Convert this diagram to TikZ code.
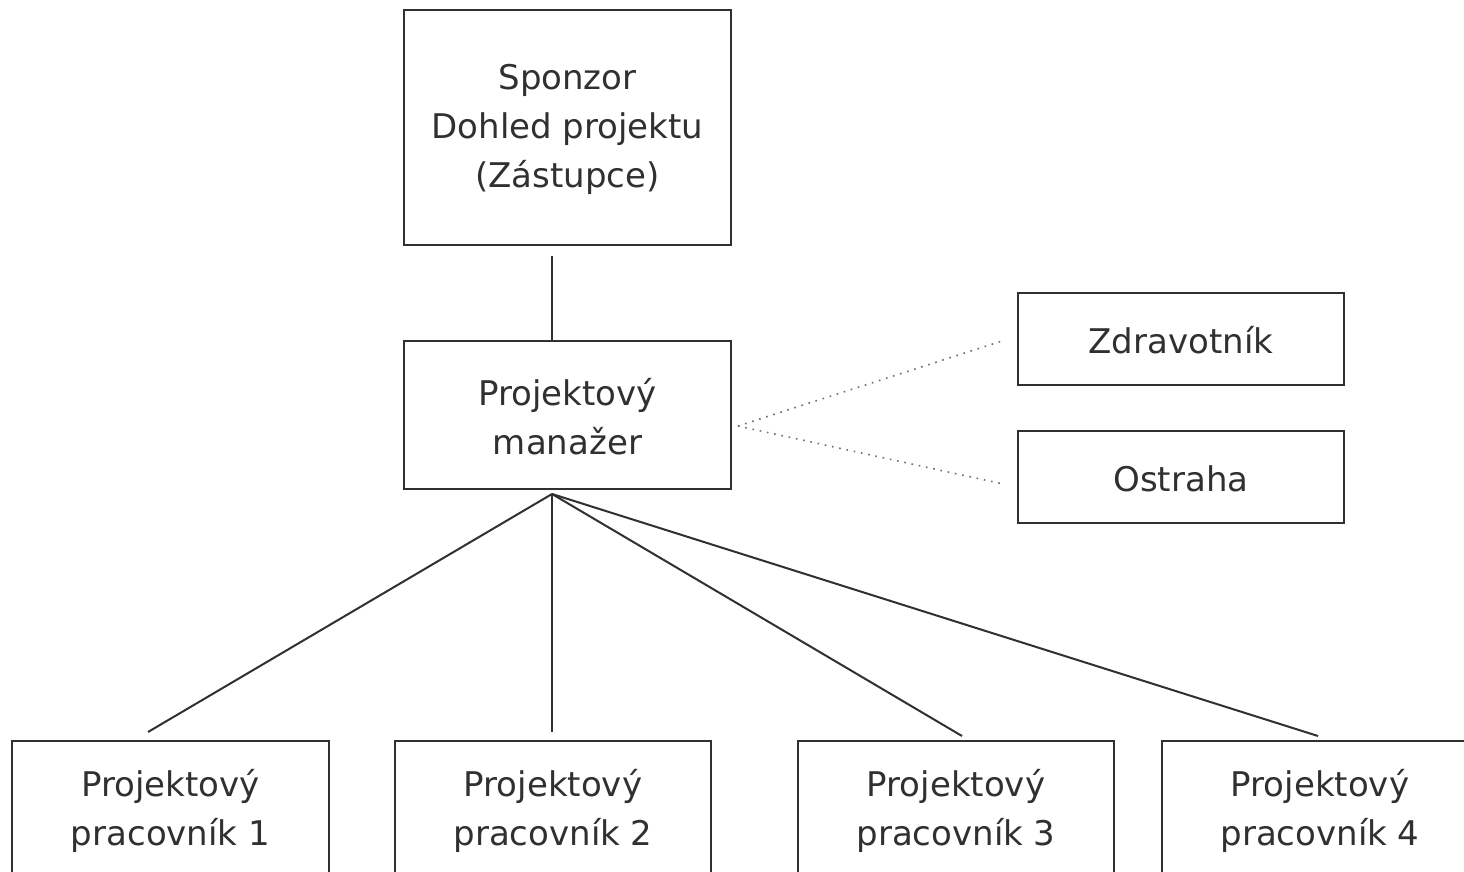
\documentclass[tikz,border=0pt]{standalone}
\usepackage{fontspec}
\setmainfont{DejaVu Sans}
\usetikzlibrary{calc}
\definecolor{ink}{HTML}{303030}
\tikzset{
  box/.style={draw=ink, line width=2pt, rectangle, inner sep=0pt},
  txt/.style={text=ink, align=center, font=\fontsize{34}{49}\selectfont},
  link/.style={draw=ink, line width=2pt},
  dotlink/.style={draw=ink!70, line width=1.6pt, dash pattern=on 1.6pt off 5.8pt}
}
\begin{document}
\begin{tikzpicture}[x=1pt,y=-1pt]
\useasboundingbox (0,0) rectangle (1464,872);
\clip (0,0) rectangle (1464,872);
% top boxes
\node[box, minimum width=327pt, minimum height=235pt] (sp) at (567.5,127.5) {};
\node[txt] (sptxt) at (567.5,129) {Sponzor\\Dohled projektu\\(Zástupce)};
\node[box, minimum width=327pt, minimum height=148pt] (pm) at (567.5,415) {};
\node[txt] (pmtxt) at (567.5,417) {Projektový\\manažer};
\node[box, minimum width=326pt, minimum height=92pt] (zd) at (1181,339) {};
\node[txt] (zdtxt) at (1181,340) {Zdravotník};
\node[box, minimum width=326pt, minimum height=92pt] (os) at (1181,477) {};
\node[txt] (ostxt) at (1181,479) {Ostraha};
% bottom boxes (cut off by the frame)
\node[box, minimum width=317pt, minimum height=200pt] (w1) at (170.5,841) {};
\node[txt] (w1txt) at (170.5,811) {Projektový\\pracovník 1};
\node[box, minimum width=316pt, minimum height=200pt] (w2) at (553,841) {};
\node[txt] (w2txt) at (553,811) {Projektový\\pracovník 2};
\node[box, minimum width=316pt, minimum height=200pt] (w3) at (956,841) {};
\node[txt] (w3txt) at (956,811) {Projektový\\pracovník 3};
\node[box, minimum width=316pt, minimum height=200pt] (w4) at (1320,841) {};
\node[txt] (w4txt) at (1320,811) {Projektový\\pracovník 4};
% connectors
\coordinate (hub) at ($(pm.south)+(-15.5,4)$);
\draw[link] ($(sp.south)+(-15.5,10)$) -- ($(pm.north)+(-15.5,0)$);
\draw[link] (hub) -- ($(w1.north)+(-22.5,-8)$);
\draw[link] (hub) -- ($(w2.north)+(-1,-8)$);
\draw[link] (hub) -- ($(w3.north)+(6,-4)$);
\draw[link] (hub) -- ($(w4.north)+(-2,-4)$);
\coordinate (dstart) at ($(pm.east)+(6,11)$);
\draw[dotlink] (dstart) -- ($(zd.west)+(-15,2)$);
\draw[dotlink] (dstart) -- ($(os.west)+(-14,7)$);
\end{tikzpicture}
\end{document}
